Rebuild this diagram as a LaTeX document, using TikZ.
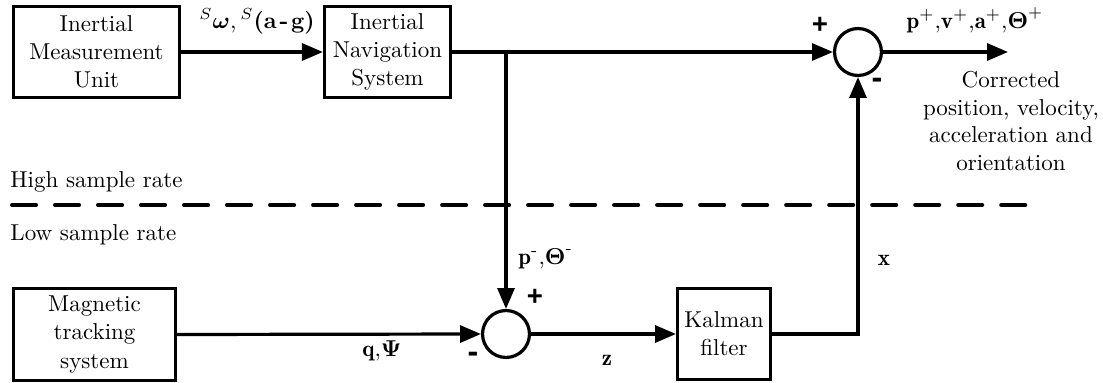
\documentclass[tikz,border=0pt]{standalone}
\usepackage{amsmath,amssymb}
\usepackage{fontspec}
\newfontfamily\signfont{Liberation Sans}
\usetikzlibrary{arrows.meta}
\tikzset{
  blk/.style={draw, line width=1.39pt, inner sep=1pt, align=center, font=\fontsize{10}{12.2}\selectfont},
  sumc/.style={draw, circle, line width=1.39pt, minimum size=20.4pt, inner sep=0pt},
  conn/.style={line width=1.39pt, -{Triangle[length=9.1pt,width=7.4pt]}},
  lbl/.style={inner sep=0pt, font=\fontsize{10}{12.2}\selectfont},
  plussgn/.style={inner sep=0pt, font=\fontsize{12}{12}\selectfont\signfont\bfseries},
  minussgn/.style={inner sep=0pt, font=\fontsize{14}{14}\selectfont\signfont\bfseries},
}
\begin{document}
\begin{tikzpicture}[x=0.43478pt, y=-0.43478pt]
\useasboundingbox (0,0) rectangle (1103,383);
% blocks
\node[blk, minimum width=72.2pt, minimum height=39.6pt] (imu) at (96.5,52) {Inertial\\Measurement\\Unit};
\node[blk, minimum width=54.8pt, minimum height=39.6pt] (ins) at (387.5,52) {Inertial\\Navigation\\System};
\node[blk, minimum width=70.4pt, minimum height=40pt] (mag) at (94.5,334.5) {Magnetic\\tracking\\system};
\node[blk, minimum width=40.4pt, minimum height=39.6pt] (kf) at (724,334) {Kalman\\filter};
\node[sumc] (s1) at (858,52) {};
\node[sumc] (s2) at (506,334) {};
\coordinate (out) at (1008,52);
\coordinate (j1) at (s2 |- ins.east);
% connectors
\draw[conn] (imu.east) -- (ins.west);
\draw[conn] (ins.east) -- (s1.west);
\draw[conn] (j1) -- (s2.north);
\draw[conn] (mag.east) -- (s2.west);
\draw[conn] (s2.east) -- (kf.west);
\draw[conn] (kf.east) -| (s1.south);
\draw[conn] (s1.east) -- (out);
% dashed separator
\coordinate (dl) at (12,205);
\coordinate (dr) at (1026,205);
\draw[line width=1.75pt, line cap=round, dash pattern=on 10.45pt off 8.25pt] (dl) -- (dr);
% labels
\node[lbl, anchor=base] (l1) at (257,28) {${}^{S}\boldsymbol{\omega},{}^{S}$\textbf{(a\kern0.12em-\kern0.12em g)}};
\node[lbl, anchor=base] (l2) at (975,28) {$\mathbf{p}^{+}{,}\mathbf{v}^{+}{,}\mathbf{a}^{+}{,}\boldsymbol{\Theta}^{+}$};
\node[lbl, anchor=north, align=center, font=\fontsize{10}{12}\selectfont] (corr) at (1011,71) {Corrected\\position, velocity,\\acceleration and\\orientation};
\node[lbl, anchor=base west] (hi) at (10,187) {High sample rate};
\node[lbl, anchor=base west] (lo) at (10,240) {Low sample rate};
\node[lbl, anchor=base west] (pm) at (518,264) {$\mathbf{p}^{\text{-}}{,}\boldsymbol{\Theta}^{\text{-}}$};
\node[lbl, anchor=base] (lx) at (884,265) {$\mathbf{x}$};
\node[lbl, anchor=base] (lz) at (607,365) {$\mathbf{z}$};
\node[lbl, anchor=base] (lq) at (382,356) {$\mathbf{q}{,}\boldsymbol{\Psi}$};
% signs
\node[plussgn] (p1) at (820,25) {+};
\node[minussgn] (m1) at (877,83) {-};
\node[plussgn] (p2) at (535,297) {+};
\node[minussgn] (m2) at (473,357) {-};
\end{tikzpicture}
\end{document}
